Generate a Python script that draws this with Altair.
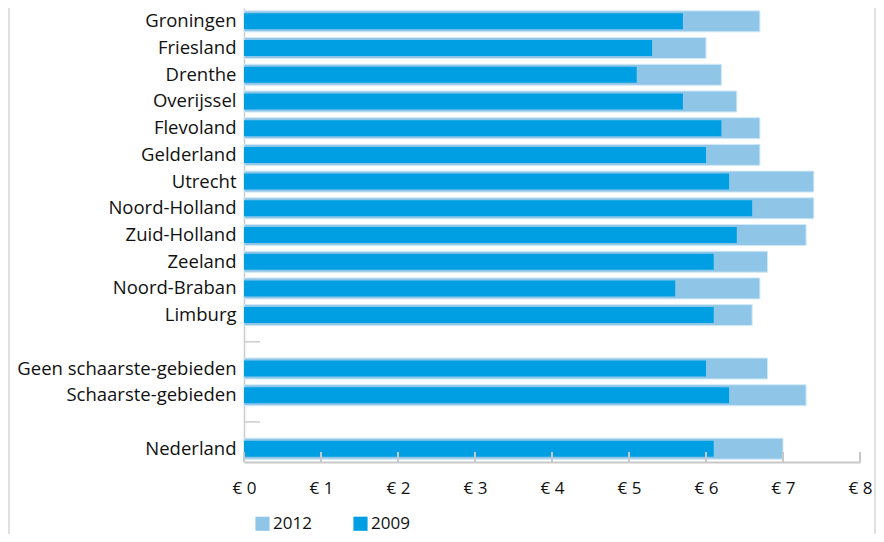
import altair as alt
import pandas as pd

regions = ["Groningen", "Friesland", "Drenthe", "Overijssel", "Flevoland", "Gelderland",
           "Utrecht", "Noord-Holland", "Zuid-Holland", "Zeeland", "Noord-Braban", "Limburg",
           " ", "Geen schaarste-gebieden", "Schaarste-gebieden", "  ", "Nederland"]
blank_rows = [" ", "  "]
v2012 = [6.7, 6.0, 6.2, 6.4, 6.7, 6.7, 7.4, 7.4, 7.3, 6.8, 6.7, 6.6, None, 6.8, 7.3, None, 7.0]
v2009 = [5.7, 5.3, 5.1, 5.7, 6.2, 6.0, 6.3, 6.6, 6.4, 6.1, 5.6, 6.1, None, 6.0, 6.3, None, 6.1]
x_ticks = [0, 1, 2, 3, 4, 5, 6, 7, 8]
years = ["2012", "2009"]
colors = ["#8fc6e8", "#009fe3"]

rows = []
for r, a, b in zip(regions, v2012, v2009):
    if a is not None:
        rows.append({"region": r, "year": "2012", "value": a})
        rows.append({"region": r, "year": "2009", "value": b})
df = pd.DataFrame(rows)

W, H = 616, 454
FONT = "Open Sans"

y_enc = alt.Y("region:N", sort=regions, scale=alt.Scale(domain=regions, paddingInner=0.2, paddingOuter=0.1),
              axis=alt.Axis(title=None, ticks=False, labelFontSize=18.5, labelColor="#111111",
                            labelFont=FONT, labelPadding=8, domainColor="#cccccc", domainWidth=1.5,
                            labelLimit=300))
x_enc = alt.X("value:Q", scale=alt.Scale(domain=[0, 8], nice=False),
              axis=alt.Axis(title=None, values=x_ticks, ticks=False, grid=False, labelFlush=False,
                            labelExpr="'€ ' + datum.value", labelFontSize=17, labelFont=FONT,
                            labelColor="#111111", labelPadding=18, domainColor="#c8c8c8",
                            domainWidth=2))
color_enc = alt.Color("year:N", scale=alt.Scale(domain=years, range=colors),
                      legend=alt.Legend(title=None, orient="none", legendX=10, legendY=507,
                                        direction="horizontal", symbolType="square",
                                        symbolSize=200, symbolStrokeWidth=0, labelFontSize=17,
                                        labelFont=FONT, labelColor="#111111", columnPadding=40,
                                        symbolOffset=0, labelOffset=2))

base = alt.Chart(df)
bars12 = base.transform_filter(alt.datum.year == "2012").mark_bar(
    size=21, stroke="#d2e9f7", strokeWidth=1).encode(y=y_enc, x=x_enc, color=color_enc)
bars09 = base.transform_filter(alt.datum.year == "2009").mark_bar(size=16).encode(
    y=y_enc, x=x_enc, color=color_enc)

blank_df = pd.DataFrame({"region": blank_rows})
blank_ticks = alt.Chart(blank_df).mark_rule(color="#cccccc", strokeWidth=1.5).encode(
    y=alt.Y("region:N", sort=regions, scale=alt.Scale(domain=regions)),
    x=alt.value(0), x2=alt.value(16))

tick_df = pd.DataFrame({"t": x_ticks})
x_tick_marks = alt.Chart(tick_df).mark_rule(color="#c8c8c8", strokeWidth=2).encode(
    x=alt.X("t:Q", scale=alt.Scale(domain=[0, 8], nice=False)),
    y=alt.value(H - 10), y2=alt.value(H))

border_df = pd.DataFrame({"b": ["frame"]})
border_left = alt.Chart(border_df).mark_rule(color="#e0e0e0", strokeWidth=2).encode(
    x=alt.value(-235), y=alt.value(0), y2=alt.value(H + 72))
border_right = alt.Chart(border_df).mark_rule(color="#e0e0e0", strokeWidth=2).encode(
    x=alt.value(631), y=alt.value(0), y2=alt.value(H + 72))

chart = alt.layer(border_left, border_right, bars12, bars09, blank_ticks, x_tick_marks).properties(
    width=W, height=H,
    background="white",
    autosize=alt.AutoSizeParams(type="none"),
    padding={"left": 236, "top": 0, "right": 16, "bottom": 72},
).configure_view(strokeWidth=0, stroke="transparent")

chart.save("out.html", embed_options={"renderer": "svg", "actions": False})
